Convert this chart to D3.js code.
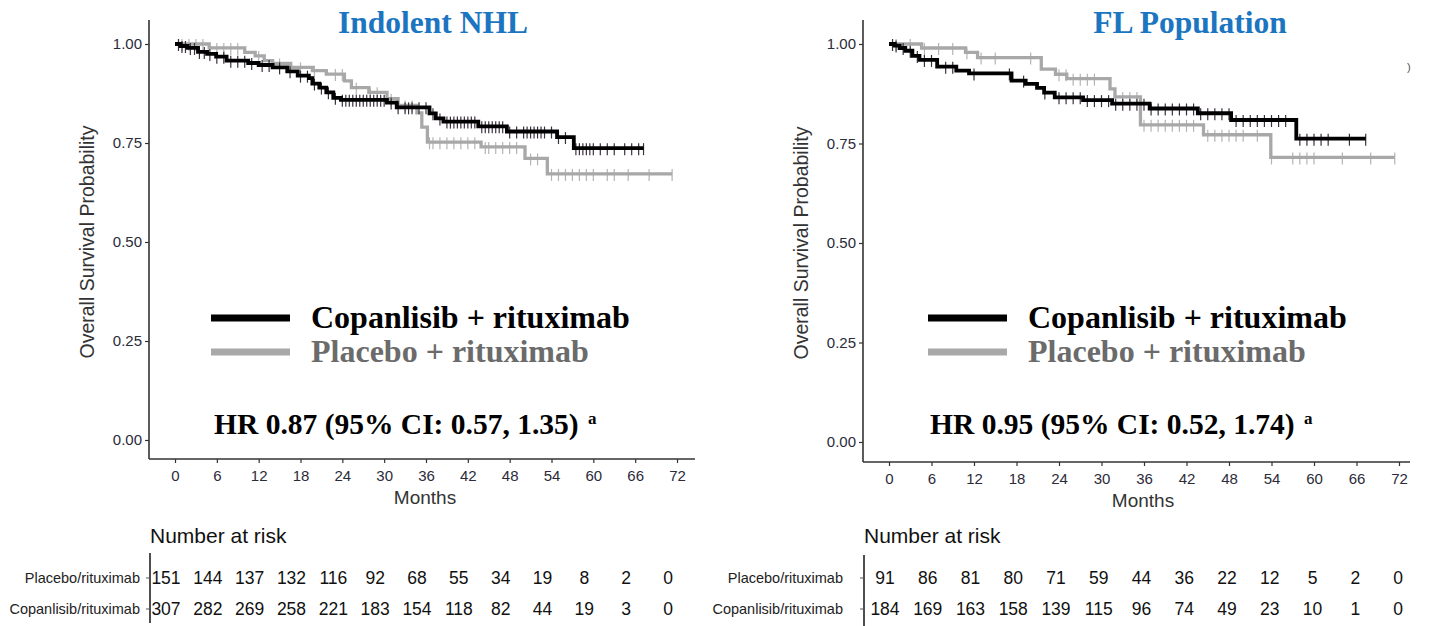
<!DOCTYPE html>
<html><head><meta charset="utf-8">
<script src="https://cdn.jsdelivr.net/npm/d3@7"></script>
<style>
html,body{margin:0;padding:0;background:#fff;}
svg{display:block;}
</style></head>
<body>
<svg id="c" width="1429" height="626"></svg>
<script>
// ---------------- DATA ----------------
const monthTicks = [0,6,12,18,24,30,36,42,48,54,60,66,72];
const survTicks = [0,0.25,0.5,0.75,1];
const survTickLabels = ["0.00","0.25","0.50","0.75","1.00"];
const panelTitles = ["Indolent NHL","FL Population"];
const legendLabels = ["Copanlisib + rituximab","Placebo + rituximab"];
const hrTexts = ["HR 0.87 (95% CI: 0.57, 1.35)","HR 0.95 (95% CI: 0.52, 1.74)"];
const riskRowLabels = ["Placebo/rituximab","Copanlisib/rituximab"];

// Indolent NHL - Copanlisib + rituximab (step times, survival)
const nhlCopTime = [0,0.8,1.8,3.3,4.6,5.9,7.4,10.5,12,14,16.1,17.6,19.2,19.7,20.7,21.7,22.7,23.8,30.4,31.8,36.5,37.4,38.5,43.5,47.6,54.8,57.2];
const nhlCopSurv = [1,0.995,0.99,0.98,0.975,0.968,0.958,0.952,0.947,0.941,0.931,0.92,0.914,0.90,0.89,0.878,0.864,0.859,0.852,0.84,0.825,0.812,0.804,0.792,0.779,0.765,0.737];
const nhlCopEnd = 67.2;
const nhlCopCensor = [0.5,1,1.5,2.2,2.8,3.5,4.2,5,6,7,8,9,10,11,12.5,13.5,15,16.5,18,19,20,21,22,23,24,24.5,25,25.5,26,26.5,27,27.5,28,28.5,29,29.5,30,31,32,33,33.5,34,35,36,37,38,39,39.5,40,40.5,41,41.5,42,42.5,43,44,44.5,45,45.5,46,46.5,47,48,49,50,50.5,51,51.5,52,52.5,53,54,55,56,57.5,58,58.5,59,59.5,60,61,62,63,64.5,65.5,66.5,67.2];
// Indolent NHL - Placebo + rituximab
const nhlPlaTime = [0,4.9,10,11.5,12.8,14,16.6,19.7,21.7,24.3,25.3,27.8,30.4,32,34.7,35.4,36.2,43.9,50.2,53.4];
const nhlPlaSurv = [1,0.99,0.979,0.97,0.958,0.951,0.941,0.933,0.924,0.907,0.89,0.878,0.862,0.845,0.826,0.79,0.752,0.74,0.711,0.672];
const nhlPlaEnd = 71.3;
const nhlPlaCensor = [1,2,3,4,6,7,8,9,12,15,18,20,23,24,26,28,29,31,33,34,36.5,37,38,39,40,41,42,43,44.5,45,46,47,48,49,51,52,54,55,56,57,58,59,60,62,63,65,68,71.3];

// FL population - Copanlisib + rituximab
const flCopTime = [0,0.8,1.5,2.3,3.3,4.3,6.8,9.5,11.3,17.3,19.3,20.9,21.9,23.4,27.4,31.5,36.8,43.6,48.3,57.5];
const flCopSurv = [1,0.996,0.99,0.983,0.97,0.96,0.943,0.933,0.926,0.908,0.9,0.89,0.878,0.866,0.859,0.85,0.838,0.826,0.809,0.762];
const flCopEnd = 67.3;
const flCopCensor = [0.5,1,2,3,4,5,6,8,9,12,17,19,22,24,25,26,27,28,29,30,31,32,33,34,35,36,37,38,39,40,41,42,43,44,45,46,47,48,49,50,51,52,53,54,55,56,58,59,60,61,62,65,67.3];
// FL population - Placebo + rituximab
const flPlaTime = [0,4.6,10.8,12.5,21.5,23.5,25.1,31.2,31.9,35.5,44.4,53.9];
const flPlaSurv = [1,0.99,0.979,0.966,0.937,0.924,0.913,0.887,0.867,0.797,0.772,0.715];
const flPlaEnd = 71.4;
const flPlaCensor = [1,3,5,7,9,11,13,15,20,24,25,26,27,28,29,33,34,35,36,37,38,39,40,41,42,43,45,46,47,48,49,50,52,54,57,58,59,60,64,68,71.4];

// Number at risk (at monthTicks)
const nhlPlaRisk = [151,144,137,132,116,92,68,55,34,19,8,2,0];
const nhlCopRisk = [307,282,269,258,221,183,154,118,82,44,19,3,0];
const flPlaRisk = [91,86,81,80,71,59,44,36,22,12,5,2,0];
const flCopRisk = [184,169,163,158,139,115,96,74,49,23,10,1,0];

// ---------------- LAYOUT ----------------
const svg = d3.select("#c");
const SANS = "'Liberation Sans',Arial,sans-serif";
const SERIF = "'Liberation Serif','Times New Roman',serif";
const COP_COLOR = "#000000", PLA_COLOR = "#a8a8a8";

const panels = [
  {title: panelTitles[0], titleX: 433, axisX: 149, axisRight: 695, axisTop: 20, axisBottom: 459,
   xRange: [175, 677], yRange: [440, 44], legendX: 211, hrX: 214, hr: hrTexts[0],
   cop: {t: nhlCopTime, s: nhlCopSurv, end: nhlCopEnd, c: nhlCopCensor},
   pla: {t: nhlPlaTime, s: nhlPlaSurv, end: nhlPlaEnd, c: nhlPlaCensor},
   riskX: [166, 668], riskLine: 150, riskLabelX: 140, riskTop: 553, riskBottom: 623,
   risk: [nhlPlaRisk, nhlCopRisk]},
  {title: panelTitles[1], titleX: 1190, axisX: 863, axisRight: 1410, axisTop: 20, axisBottom: 462,
   xRange: [889, 1399], yRange: [442, 44], legendX: 928, hrX: 930, hr: hrTexts[1],
   cop: {t: flCopTime, s: flCopSurv, end: flCopEnd, c: flCopCensor},
   pla: {t: flPlaTime, s: flPlaSurv, end: flPlaEnd, c: flPlaCensor},
   riskX: [885, 1398], riskLine: 864, riskLabelX: 843, riskTop: 555, riskBottom: 626,
   risk: [flPlaRisk, flCopRisk]}
];

function survAt(curve, t) {
  const i = d3.bisectRight(curve.t, t) - 1;
  return curve.s[Math.max(0, i)];
}

panels.forEach(p => {
  const g = svg.append("g");
  const x = d3.scaleLinear().domain([0, 72]).range(p.xRange);
  const y = d3.scaleLinear().domain([0, 1]).range(p.yRange);

  // title
  g.append("text").attr("x", p.titleX).attr("y", 33).attr("text-anchor", "middle")
    .attr("font-family", SERIF).attr("font-weight", "bold").attr("font-size", 31.5)
    .attr("fill", "#1c75c0").text(p.title);

  // axes
  const ya = d3.axisLeft(y).tickValues(survTicks).tickFormat((d, i) => survTickLabels[i]).tickSize(4).tickPadding(3);
  const yg = g.append("g").attr("transform", `translate(${p.axisX},0)`).call(ya);
  yg.select(".domain").remove();
  yg.selectAll("line").attr("stroke", "#333").attr("stroke-width", 1.2);
  yg.selectAll("text").attr("font-family", SANS).attr("font-size", 15).attr("fill", "#2b2b3a");

  const xa = d3.axisBottom(x).tickValues(monthTicks).tickSize(4).tickPadding(7);
  const xg = g.append("g").attr("transform", `translate(0,${p.axisBottom})`).call(xa);
  xg.select(".domain").remove();
  xg.selectAll("line").attr("stroke", "#333").attr("stroke-width", 1.2);
  xg.selectAll("text").attr("font-family", SANS).attr("font-size", 15).attr("fill", "#2b2b3a");

  g.append("line").attr("x1", p.axisX).attr("x2", p.axisX).attr("y1", p.axisTop).attr("y2", p.axisBottom)
    .attr("stroke", "#333").attr("stroke-width", 1.6);
  g.append("line").attr("x1", p.axisX).attr("x2", p.axisRight).attr("y1", p.axisBottom).attr("y2", p.axisBottom)
    .attr("stroke", "#333").attr("stroke-width", 1.6);

  // axis titles
  const yMid = (p.yRange[0] + p.yRange[1]) / 2;
  g.append("text").attr("transform", `translate(${p.axisX - 55},${yMid}) rotate(-90)`)
    .attr("text-anchor", "middle").attr("font-family", SANS).attr("font-size", 19.5).attr("fill", "#333")
    .text("Overall Survival Probability");
  g.append("text").attr("x", (p.xRange[0] + p.xRange[1]) / 2 - 1).attr("y", p.axisBottom + 45)
    .attr("text-anchor", "middle").attr("font-family", SANS).attr("font-size", 19).attr("fill", "#333")
    .text("Months");

  // curves
  const line = d3.line().x(d => x(d[0])).y(d => y(d[1])).curve(d3.curveStepAfter);
  const drawCurve = (c, color, width, tickColor) => {
    const pts = c.t.map((t, i) => [t, c.s[i]]);
    pts.push([c.end, c.s[c.s.length - 1]]);
    g.append("g").selectAll("line").data(c.c).join("line")
      .attr("x1", d => x(d)).attr("x2", d => x(d))
      .attr("y1", d => y(survAt(c, d)) - 5).attr("y2", d => y(survAt(c, d)) + 7)
      .attr("stroke", tickColor).attr("stroke-width", 1.2);
    g.append("path").datum(pts).attr("d", line).attr("fill", "none")
      .attr("stroke", color).attr("stroke-width", width);
  };
  drawCurve(p.pla, PLA_COLOR, 3.3, "#b4b4b4");
  drawCurve(p.cop, COP_COLOR, 3.8, "#3b3040");

  // legend
  const leg = [{label: legendLabels[0], color: COP_COLOR, text: "#000", y: 318},
               {label: legendLabels[1], color: PLA_COLOR, text: "#6b6b6b", y: 352}];
  leg.forEach(l => {
    g.append("line").attr("x1", p.legendX).attr("x2", p.legendX + 79).attr("y1", l.y).attr("y2", l.y)
      .attr("stroke", l.color).attr("stroke-width", 7);
    g.append("text").attr("x", p.legendX + 100).attr("y", l.y + 10)
      .attr("font-family", SERIF).attr("font-weight", "bold").attr("font-size", 32).attr("fill", l.text)
      .text(l.label);
  });

  // HR text
  const hr = g.append("text").attr("x", p.hrX).attr("y", 434)
    .attr("font-family", SERIF).attr("font-weight", "bold").attr("font-size", 29.5).attr("fill", "#000");
  hr.append("tspan").text(p.hr + " ");
  hr.append("tspan").attr("font-size", 17).attr("dy", -10).attr("dx", 2).text("a");

  // risk table
  const rx = d3.scaleLinear().domain([0, 72]).range(p.riskX);
  g.append("text").attr("x", p.riskLine).attr("y", 543).attr("font-family", SANS).attr("font-size", 21)
    .attr("fill", "#111").text("Number at risk");
  g.append("line").attr("x1", p.riskLine).attr("x2", p.riskLine).attr("y1", p.riskTop).attr("y2", p.riskBottom)
    .attr("stroke", "#222").attr("stroke-width", 1.6);
  const rowY = [578, 609];
  p.risk.forEach((row, ri) => {
    g.append("line").attr("x1", p.riskLine - 4).attr("x2", p.riskLine).attr("y1", rowY[ri]).attr("y2", rowY[ri])
      .attr("stroke", "#555").attr("stroke-width", 1);
    g.append("text").attr("x", p.riskLabelX).attr("y", rowY[ri] + 5).attr("text-anchor", "end")
      .attr("font-family", SANS).attr("font-size", 14.5).attr("fill", "#222").text(riskRowLabels[ri]);
    g.append("g").selectAll("text").data(row).join("text")
      .attr("x", (d, i) => rx(monthTicks[i])).attr("y", rowY[ri] + 6).attr("text-anchor", "middle")
      .attr("font-family", SANS).attr("font-size", 17.5).attr("fill", "#111").text(d => d);
  });
});

// stray glyph in reference (cropped text at right edge)
svg.append("text").attr("x", 1407).attr("y", 71).attr("font-family", SANS).attr("font-size", 11)
  .attr("fill", "#555").text(")");
</script>
</body></html>
